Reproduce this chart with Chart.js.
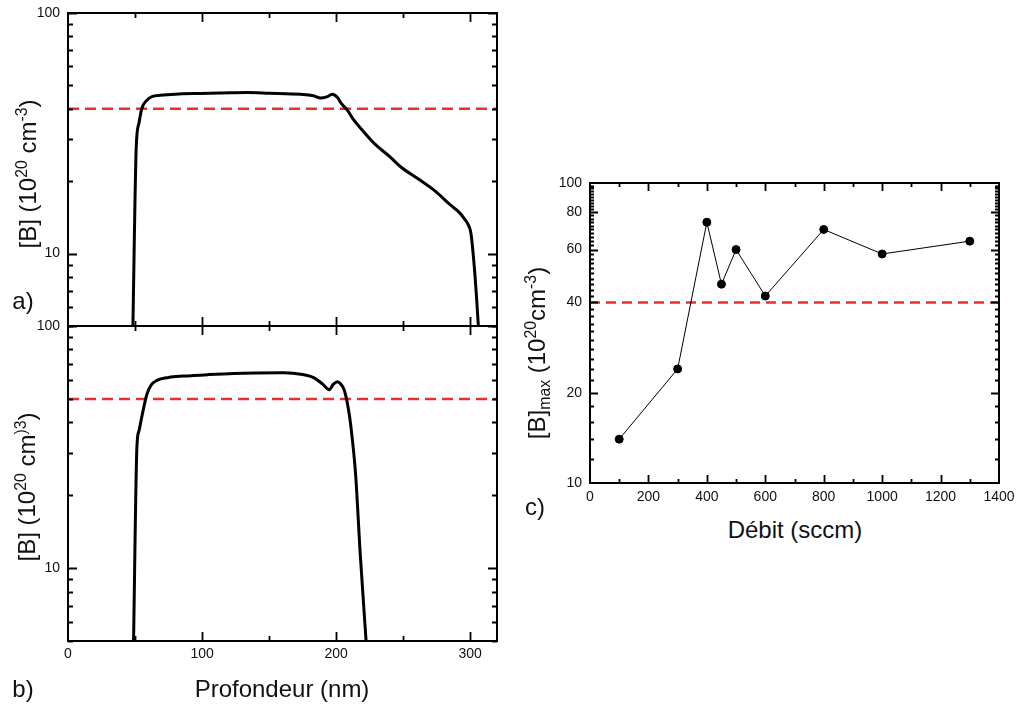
<!DOCTYPE html>
<html>
<head>
<meta charset="utf-8">
<script src="https://cdn.jsdelivr.net/npm/chart.js@4.4.1/dist/chart.umd.min.js"></script>
<style>
  html, body { margin: 0; padding: 0; background: #fff; }
  #wrap { position: relative; width: 1017px; height: 704px; overflow: hidden; background: #fff;
          font-family: "Liberation Sans", Arial, sans-serif; color: #111; }
  canvas { position: absolute; }
  .t { position: absolute; white-space: nowrap; line-height: 1; transform: translate(-50%, -50%); }
  .rot { transform: translate(-50%, -50%) rotate(-90deg); }
  .t sup { font-size: 0.66em; vertical-align: 0.55em; line-height: 0; }
  .t sub { font-size: 0.66em; vertical-align: -0.3em; line-height: 0; }
  .big { font-size: 24px; }
</style>
</head>
<body>
<div id="wrap">
  <canvas id="cA" width="520" height="330" style="left:0px;top:0px"></canvas>
  <canvas id="cB" width="520" height="393" style="left:0px;top:311px"></canvas>
  <canvas id="cC" width="497" height="345" style="left:520px;top:168px"></canvas>

  <div class="t big rot" style="left:28px;top:174px">[B] (10<sup>20</sup> cm<sup>-3</sup>)</div>
  <div class="t big rot" style="left:27px;top:487px">[B] (10<sup>20</sup> cm<sup>)3</sup>)</div>
  <div class="t big rot" style="left:537px;top:353px">[B]<sub>max</sub> (10<sup>20</sup>cm<sup>-3</sup>)</div>
  <div class="t big" style="left:282px;top:689px">Profondeur (nm)</div>
  <div class="t big" style="left:795px;top:530px">Débit (sccm)</div>
  <div class="t big" style="left:23px;top:301px">a)</div>
  <div class="t big" style="left:23px;top:689px">b)</div>
  <div class="t big" style="left:535px;top:507px">c)</div>
</div>
<script>
// ---------- DATA ----------
// Panel a: boron profile
const depthA = [48.3, 50.9, 53, 55, 58.8, 63, 68.8, 80, 98.7, 115, 133.6, 150, 173.5, 183, 188.5, 193, 197.2, 201, 204, 208.5, 213, 218.4, 228.4, 240, 248.3, 260.8, 273.2, 285.7, 292, 295.7, 298.5, 300.6, 303.1, 304.8, 306.5];
const concA  = [4.6, 27.7, 35, 40, 43.4, 45, 45.5, 46, 46.3, 46.5, 46.7, 46.4, 45.9, 45.3, 44.3, 44.8, 45.9, 44.5, 42, 39.4, 36, 33.1, 28.7, 25.3, 22.9, 20.5, 18.3, 15.85, 14.8, 13.95, 13.2, 12.1, 8.77, 6.5, 4.6];
// Panel b: boron profile
const depthB = [48.8, 51.4, 53, 55.1, 58.8, 62, 66.3, 75, 86.3, 105, 123.7, 140, 161.1, 175, 183.6, 190, 194.8, 198, 201, 203.5, 206.1, 209, 211, 214.5, 218, 222.8];
const concB  = [4.6, 31.7, 37, 42.3, 52.1, 57, 59.6, 61.3, 62.1, 63, 63.7, 64, 64.1, 63, 61.1, 57.5, 54.6, 57.5, 58.9, 57.5, 54.3, 46, 38.5, 24.5, 11.4, 4.6];
// Panel c: max concentration vs flow
const flowC = [100, 300, 400, 450, 500, 600, 800, 1000, 1300];
const bmaxC = [14.0, 24.0, 74, 46, 60, 42, 70, 58, 64];
// Threshold (red dashed) lines
const thresholdA = 40;
const thresholdB = 50;
const thresholdC = 40;
// Axis ranges
const rangeABx = [0, 320];
const rangeABy = [5, 100];
const rangeCx = [0, 1400];
const rangeCy = [10, 100];
// Tick labels
const xLabelsAB = [0, 100, 200, 300];
const yLabelsAB = [10, 100];
const xLabelsC = [0, 200, 400, 600, 800, 1000, 1200, 1400];
const yLabelsC = [10, 20, 40, 60, 80, 100];
// Tick marks
const xMajorAB = [100, 200, 300];
const xMinorAB = [50, 150, 250];
const yMajorAB = [10, 100];
const yMinorAB = [5, 6, 7, 8, 9, 20, 30, 40, 50, 60, 70, 80, 90];
const xMajorC = [200, 400, 600, 800, 1000, 1200];
const xMinorC = [100, 300, 500, 700, 900, 1100, 1300];
const yMajorC = [20, 40, 60, 80];
const yMinorC = [12, 14, 16, 18, 22, 24, 26, 28, 30, 32, 34, 36, 38, 42, 44, 46, 48, 50, 52, 54, 56, 58, 62, 64, 66, 68, 70, 72, 74, 76, 78, 82, 84, 86, 88, 90, 92, 94, 96, 98];

// ---------- SETUP ----------
Chart.defaults.font.family = '"Liberation Sans", Arial, sans-serif';
Chart.defaults.font.size = 14;
Chart.defaults.color = '#111';

const RED = '#e8302f';

const frameTicks = {
  id: 'frameTicks',
  afterDatasetsDraw(chart, args, o) {
    const { ctx, chartArea: { left, right, top, bottom }, scales: { x, y } } = chart;
    ctx.save();
    ctx.strokeStyle = '#000';
    ctx.lineWidth = o.tickWidth;
    ctx.beginPath();
    const xt = o.xMajor.map(v => [v, o.majorLen]).concat(o.xMinor.map(v => [v, o.minorLen]));
    const yt = o.yMajor.map(v => [v, o.majorLen]).concat(o.yMinor.map(v => [v, o.minorLen]));
    xt.forEach(([v, L]) => {
      const p = Math.round(x.getPixelForValue(v)) + 0.5;
      ctx.moveTo(p, bottom); ctx.lineTo(p, bottom - L);
      ctx.moveTo(p, top); ctx.lineTo(p, top + L);
    });
    yt.forEach(([v, L]) => {
      const p = Math.round(y.getPixelForValue(v)) + 0.5;
      ctx.moveTo(left, p); ctx.lineTo(left + L, p);
      ctx.moveTo(right, p); ctx.lineTo(right - L, p);
    });
    ctx.stroke();
    ctx.lineWidth = o.borderWidth;
    ctx.strokeRect(left, top, right - left, bottom - top);
    ctx.restore();
  }
};

function pts(xs, ys) { return xs.map((v, i) => ({ x: v, y: ys[i] })); }

function zeroPad(s) { s.paddingTop = 0; s.paddingBottom = 0; s.paddingLeft = 0; s.paddingRight = 0; }

function makeScales(xr, yr, xLabels, yLabels, yWidth, xHeight, showX, pad) {
  return {
    x: {
      type: 'linear', min: xr[0], max: xr[1],
      grid: { display: false, drawTicks: false }, border: { display: false },
      ticks: { display: showX, autoSkip: false, maxRotation: 0, padding: pad.x, callback: v => String(v) },
      afterBuildTicks: s => { s.ticks = xLabels.map(v => ({ value: v })); },
      afterFit: s => { s.height = xHeight; zeroPad(s); }
    },
    y: {
      type: 'logarithmic', min: yr[0], max: yr[1],
      grid: { display: false, drawTicks: false }, border: { display: false },
      ticks: { autoSkip: false, padding: pad.y, callback: v => String(v) },
      afterBuildTicks: s => { s.ticks = yLabels.map(v => ({ value: v })); },
      afterFit: s => { s.width = yWidth; zeroPad(s); }
    }
  };
}

function profileChart(id, xs, ys, thr, padding, xHeight, showX) {
  return new Chart(document.getElementById(id), {
    type: 'line',
    data: {
      datasets: [
        { data: pts(xs, ys), borderColor: '#000', borderWidth: 3, pointRadius: 0,
          cubicInterpolationMode: 'monotone', clip: 0, order: 1 },
        { data: pts(rangeABx, [thr, thr]), borderColor: RED, borderWidth: 2.5,
          borderDash: [11, 6], pointRadius: 0, clip: 0, order: 2 }
      ]
    },
    options: {
      responsive: false, animation: false, devicePixelRatio: 1,
      layout: { padding },
      plugins: { legend: { display: false }, tooltip: { enabled: false },
        frameTicks: { xMajor: xMajorAB, xMinor: xMinorAB, yMajor: yMajorAB, yMinor: yMinorAB,
          majorLen: 9, minorLen: 5, tickWidth: 1.8, borderWidth: 2 } },
      scales: makeScales(rangeABx, rangeABy, showX ? xLabelsAB : [], yLabelsAB, 68, xHeight, showX, { x: 5, y: 8 })
    },
    plugins: [frameTicks]
  });
}

profileChart('cA', depthA, concA, thresholdA, { top: 13, right: 23, bottom: 4, left: 0 }, 0, false);
profileChart('cB', depthB, concB, thresholdB, { top: 15, right: 23, bottom: 0, left: 0 }, 63, true);

new Chart(document.getElementById('cC'), {
  type: 'line',
  data: {
    datasets: [
      { data: pts(flowC, bmaxC), borderColor: '#000', borderWidth: 1, pointRadius: 4,
        pointBackgroundColor: '#000', pointBorderColor: '#000', tension: 0, order: 1 },
      { data: pts(rangeCx, [thresholdC, thresholdC]), borderColor: RED, borderWidth: 2.5,
        borderDash: [10, 6], pointRadius: 0, clip: 0, order: 2 }
    ]
  },
  options: {
    responsive: false, animation: false, devicePixelRatio: 1,
    layout: { padding: { top: 15, right: 18, bottom: 0, left: 0 } },
    plugins: { legend: { display: false }, tooltip: { enabled: false },
      frameTicks: { xMajor: xMajorC, xMinor: xMinorC, yMajor: yMajorC, yMinor: yMinorC,
        majorLen: 8, minorLen: 4, tickWidth: 1.8, borderWidth: 2 } },
    scales: makeScales(rangeCx, rangeCy, xLabelsC, yLabelsC, 70, 30, true, { x: 6, y: 8 })
  },
  plugins: [frameTicks]
});
</script>
</body>
</html>
